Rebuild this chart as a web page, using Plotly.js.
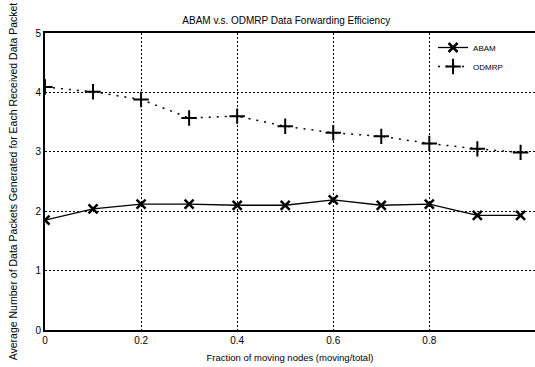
<!DOCTYPE html>
<html>
<head>
<meta charset="utf-8">
<script src="https://cdn.plot.ly/plotly-3.0.1.min.js"></script>
<style>html,body{margin:0;padding:0;background:#fff;}#chart{width:535px;height:367px;}</style>
</head>
<body>
<div id="chart"></div>
<script>
var fraction = [0, 0.1, 0.2, 0.3, 0.4, 0.5, 0.6, 0.7, 0.8, 0.9, 0.99];
var abam = [1.85, 2.04, 2.12, 2.12, 2.10, 2.10, 2.19, 2.10, 2.12, 1.93, 1.93];
var odmrp = [4.09, 4.01, 3.88, 3.57, 3.60, 3.43, 3.32, 3.26, 3.14, 3.05, 2.99];
var xTicks = [0, 0.2, 0.4, 0.6, 0.8];
var xTickText = ['0', '0.2', '0.4', '0.6', '0.8'];
var yTicks = [0, 1, 2, 3, 4, 5];

var font = 'Liberation Sans, Arial, sans-serif';
var traces = [
  {x: fraction, y: abam, name: 'ABAM', type: 'scatter', mode: 'lines+markers',
   line: {color: '#000', width: 1.3},
   marker: {symbol: 'x-thin-open', size: 9, color: '#000', line: {color: '#000', width: 2.5}}},
  {x: fraction, y: odmrp, name: 'ODMRP', type: 'scatter', mode: 'lines+markers',
   line: {color: '#000', width: 1.5, dash: '2px,6px'},
   marker: {symbol: 'cross-thin-open', size: 11, color: '#000', line: {color: '#000', width: 2}}}
];
var layout = {
  width: 535, height: 367,
  margin: {l: 45, r: 0, t: 33, b: 37},
  paper_bgcolor: '#fff', plot_bgcolor: '#fff',
  font: {family: font, color: '#000', size: 9},
  title: {text: 'ABAM v.s. ODMRP Data Forwarding Efficiency', font: {size: 10, family: font, color: '#000'},
          x: 0.535, xanchor: 'center', y: 0.945, yanchor: 'middle'},
  xaxis: {range: [0, 1.02], tickvals: xTicks, ticktext: xTickText,
          showgrid: true, gridcolor: '#000', griddash: '2px,2px', gridwidth: 1,
          showline: true, linecolor: '#000', linewidth: 2, mirror: true,
          zeroline: false, ticks: '', tickfont: {size: 10, family: font},
          title: {text: 'Fraction of moving nodes (moving/total)', font: {size: 9.5, family: font}, standoff: 9}},
  yaxis: {range: [0, 5], tickvals: yTicks,
          showgrid: true, gridcolor: '#000', griddash: '2px,2px', gridwidth: 1,
          showline: true, linecolor: '#000', linewidth: 2, mirror: false,
          zeroline: false, ticks: '', tickfont: {size: 10, family: font},
          title: {text: 'Average Number of Data Packets Generated for Each Received Data Packet', font: {size: 10.5, family: font}, standoff: 16}},
  showlegend: true,
  legend: {x: 0.945, xanchor: 'right', y: 1.0, yanchor: 'top', bgcolor: 'rgba(255,255,255,0)',
           font: {size: 8, family: font}, tracegroupgap: 0, itemwidth: 30}
};
Plotly.newPlot('chart', traces, layout, {displayModeBar: false, staticPlot: true});
</script>
</body>
</html>
